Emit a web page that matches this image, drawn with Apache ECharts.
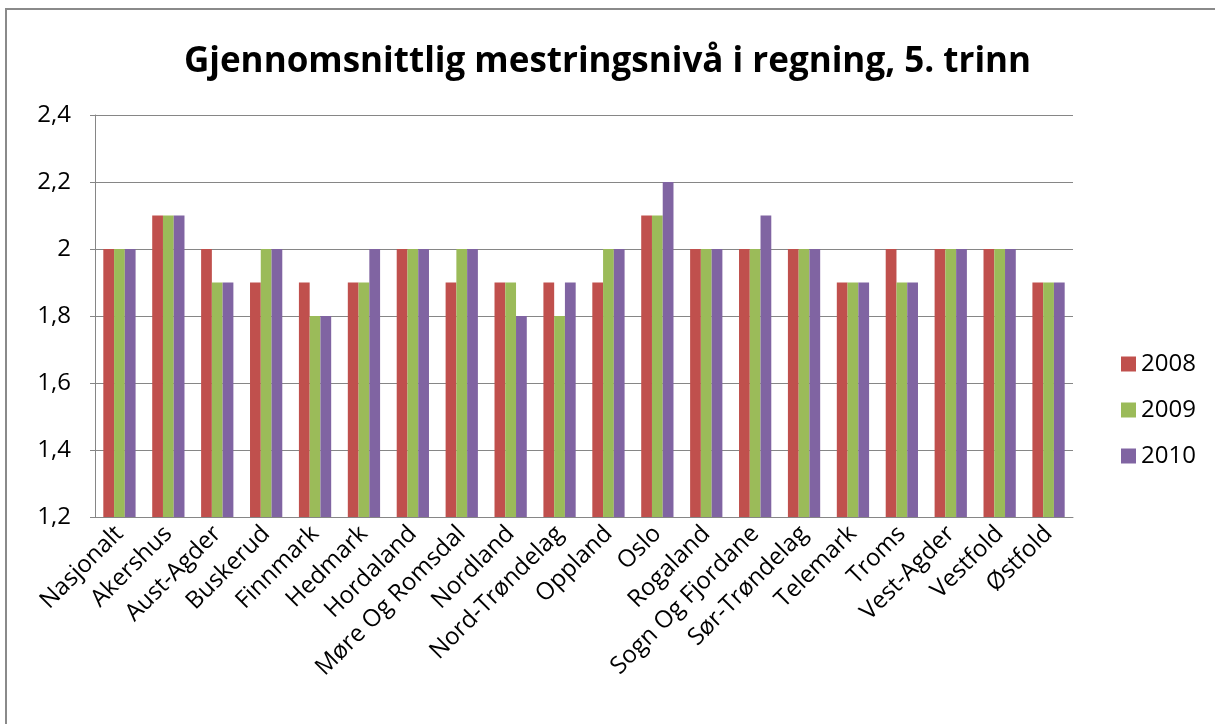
<!DOCTYPE html>
<html>
<head>
<meta charset="utf-8">
<script src="https://cdn.jsdelivr.net/npm/echarts@6/dist/echarts.min.js"></script>
<style>
  html, body { margin: 0; padding: 0; background: #fff; }
  #frame {
    position: absolute; left: 5px; top: 8px; width: 1230px; height: 740px;
    border-top: 2px solid #8a8a8a; border-left: 2px solid #8a8a8a;
  }
  #chart { position: absolute; left: 0; top: 0; width: 1215px; height: 724px; }
</style>
</head>
<body>
<div id="frame"></div>
<div id="chart"></div>
<script>
const categories = [
  'Nasjonalt', 'Akershus', 'Aust-Agder', 'Buskerud', 'Finnmark', 'Hedmark',
  'Hordaland', 'Møre Og Romsdal', 'Nordland', 'Nord-Trøndelag', 'Oppland',
  'Oslo', 'Rogaland', 'Sogn Og Fjordane', 'Sør-Trøndelag', 'Telemark',
  'Troms', 'Vest-Agder', 'Vestfold', 'Østfold'
];
const values2008 = [2, 2.1, 2, 1.9, 1.9, 1.9, 2, 1.9, 1.9, 1.9, 1.9, 2.1, 2, 2, 2, 1.9, 2, 2, 2, 1.9];
const values2009 = [2, 2.1, 1.9, 2, 1.8, 1.9, 2, 2, 1.9, 1.8, 2, 2.1, 2, 2, 2, 1.9, 1.9, 2, 2, 1.9];
const values2010 = [2, 2.1, 1.9, 2, 1.8, 2, 2, 2, 1.8, 1.9, 2, 2.2, 2, 2.1, 2, 1.9, 1.9, 2, 2, 1.9];

const seriesNames = ['2008', '2009', '2010'];
const seriesColors = ['#C0504D', '#9BBB59', '#8064A2'];
const seriesValues = [values2008, values2009, values2010];

const chart = echarts.init(document.getElementById('chart'), null, { renderer: 'canvas' });

chart.setOption({
  animation: false,
  textStyle: { fontFamily: 'Open Sans' },
  title: {
    text: 'Gjennomsnittlig mestringsnivå i regning, 5. trinn',
    left: 'center',
    top: 40,
    textStyle: { fontFamily: 'Open Sans', fontWeight: 'bold', fontSize: 35, color: '#000' }
  },
  legend: {
    orient: 'vertical',
    left: 1116,
    top: 347,
    itemWidth: 15,
    itemHeight: 15,
    itemGap: 22,
    icon: 'rect',
    textStyle: { fontSize: 24, color: '#000', fontFamily: 'Open Sans' },
    data: seriesNames
  },
  grid: { left: 95, top: 115, width: 978, height: 402, containLabel: false },
  xAxis: {
    type: 'category',
    data: categories,
    axisLine: { lineStyle: { color: '#868686' } },
    axisTick: { show: false },
    axisLabel: {
      rotate: 45, interval: 0, fontSize: 24, color: '#000', margin: 13,
      fontFamily: 'Open Sans'
    }
  },
  yAxis: {
    type: 'value',
    min: 1.2,
    max: 2.4,
    interval: 0.2,
    axisLine: { show: true, lineStyle: { color: '#868686' } },
    axisTick: { show: true, length: 5, lineStyle: { color: '#868686' } },
    splitLine: { lineStyle: { color: '#868686' } },
    axisLabel: {
      fontSize: 24, color: '#000', margin: 24, fontFamily: 'Open Sans',
      formatter: v => String(Math.round(v * 10) / 10).replace('.', ',')
    }
  },
  series: seriesNames.map((name, i) => ({
    name,
    type: 'bar',
    data: seriesValues[i],
    barGap: '0%',
    barCategoryGap: '34%',
    itemStyle: { color: seriesColors[i] }
  }))
});
</script>
</body>
</html>
